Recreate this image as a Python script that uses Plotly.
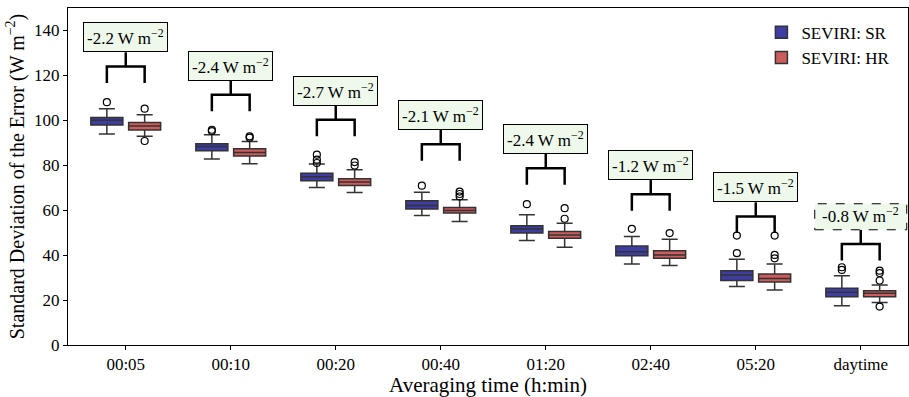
import plotly.graph_objects as go

categories = ["00:05", "00:10", "00:20", "00:40", "01:20", "02:40", "05:20", "daytime"]

sr_lower = [93.9, 82.8, 70.1, 57.6, 46.5, 36.1, 26.0, 17.5]
sr_q1 = [97.9, 86.5, 73.1, 60.5, 49.8, 39.7, 28.7, 21.5]
sr_median = [100.0, 88.3, 74.9, 62.1, 51.6, 41.5, 31.2, 23.5]
sr_q3 = [101.3, 89.6, 76.4, 64.2, 53.1, 44.1, 33.1, 25.3]
sr_upper = [105.2, 93.6, 80.6, 68.0, 58.0, 48.3, 38.2, 30.8]
sr_outliers = [[108.1], [95.8, 95.2], [84.7, 82.5, 81.0], [70.9], [62.7], [51.7],
               [48.7, 40.9], [34.6, 33.4]]

hr_lower = [92.9, 80.7, 67.9, 55.0, 43.5, 35.4, 24.5, 18.9]
hr_q1 = [95.7, 84.1, 71.0, 58.7, 47.5, 38.6, 28.0, 21.5]
hr_median = [97.5, 85.7, 72.5, 59.9, 49.0, 40.1, 29.6, 23.0]
hr_q3 = [99.0, 87.4, 74.0, 61.2, 50.5, 41.9, 31.6, 24.2]
hr_upper = [102.5, 90.6, 78.0, 64.6, 54.2, 47.1, 36.1, 26.7]
hr_outliers = [[105.2, 90.8], [92.9, 92.3], [81.4, 79.9], [68.3, 67.2, 66.1], [60.9, 56.2],
               [49.8], [48.7, 40.1, 38.6], [33.1, 32.0, 28.7, 17.1]]

differences = ["-2.2", "-2.4", "-2.7", "-2.1", "-2.4", "-1.2", "-1.5", "-0.8"]
bracket_level = [116.6, 104.0, 92.9, 82.0, 71.3, 59.7, 49.8, 37.6]
dashed_groups = ["daytime"]

yticks = [0, 20, 40, 60, 80, 100, 120, 140]

# ---- styling ----
FONT = "'Liberation Serif', 'DejaVu Serif', serif"
OFF = 0.18
BOXW = 0.305
SR_COLOR = "#3d3da3"
HR_COLOR = "#cd5c5c"
EDGE = "#333333"
ANN_BG = "#eef9ec"
LEG_H = 7.4
STEM_H = 6.3

idx = list(range(len(categories)))
fig = go.Figure()

fig.add_trace(go.Box(
    name="SEVIRI: SR", x=[i - OFF for i in idx],
    lowerfence=sr_lower, q1=sr_q1, median=sr_median, q3=sr_q3, upperfence=sr_upper,
    width=BOXW, whiskerwidth=0.5, boxpoints=False,
    fillcolor=SR_COLOR, line=dict(color=EDGE, width=1.5),
))
fig.add_trace(go.Box(
    name="SEVIRI: HR", x=[i + OFF for i in idx],
    lowerfence=hr_lower, q1=hr_q1, median=hr_median, q3=hr_q3, upperfence=hr_upper,
    width=BOXW, whiskerwidth=0.5, boxpoints=False,
    fillcolor=HR_COLOR, line=dict(color=EDGE, width=1.5),
))

# outliers
ox, oy = [], []
for i in idx:
    for v in sr_outliers[i]:
        ox.append(i - OFF); oy.append(v)
    for v in hr_outliers[i]:
        ox.append(i + OFF); oy.append(v)
fig.add_trace(go.Scatter(
    x=ox, y=oy, mode="markers", showlegend=False, hoverinfo="skip",
    marker=dict(symbol="circle-open", size=7, color="black", line=dict(width=1.2)),
))

# brackets
bx, by = [], []
for i in idx:
    L = bracket_level[i]
    H = L + LEG_H
    T = H + STEM_H
    bx += [i - OFF, i - OFF, i + OFF, i + OFF, None, i, i, None]
    by += [L, H, H, L, None, H, T, None]
fig.add_trace(go.Scatter(
    x=bx, y=by, mode="lines", showlegend=False, hoverinfo="skip",
    line=dict(color="black", width=2.5),
))

annotations = []
shapes = []
for i in idx:
    T = bracket_level[i] + LEG_H + STEM_H
    dashed = categories[i] in dashed_groups
    annotations.append(dict(
        x=i, y=T, xref="x", yref="y", xanchor="center", yanchor="bottom",
        text=f"{differences[i]} W m<sup>−2</sup>", showarrow=False,
        font=dict(family=FONT, size=17, color="black"),
        bgcolor="rgba(0,0,0,0)" if dashed else ANN_BG,
        bordercolor="rgba(0,0,0,0)" if dashed else "black",
        borderwidth=1, borderpad=3,
    ))
    if dashed:
        shapes.append(dict(
            type="rect", xref="x", yref="y", xsizemode="pixel", ysizemode="pixel",
            xanchor=i, yanchor=T, x0=-46, x1=46, y0=0, y1=26,
            line=dict(color="black", width=1, dash="dash"), fillcolor=ANN_BG, layer="above",
        ))

fig.update_layout(
    width=909, height=397,
    margin=dict(l=68, r=1, t=8, b=52),
    plot_bgcolor="white", paper_bgcolor="white",
    font=dict(family=FONT, size=16, color="black"),
    showlegend=True,
    legend=dict(x=0.985, y=0.98, xanchor="right", yanchor="top",
                font=dict(family=FONT, size=17), bgcolor="rgba(255,255,255,0)",
                tracegroupgap=0),
    annotations=annotations,
    shapes=shapes,
)
fig.update_xaxes(
    range=[-0.55, 7.45], tickmode="array", tickvals=idx, ticktext=categories,
    showline=True, linecolor="black", linewidth=1, mirror=True,
    ticks="outside", ticklen=4, tickcolor="black", showgrid=False, zeroline=False,
    title=dict(text="Averaging time (h:min)", font=dict(family=FONT, size=21), standoff=2),
    tickfont=dict(family=FONT, size=17),
)
fig.update_yaxes(
    range=[0, 150], tickmode="array", tickvals=yticks,
    showline=True, linecolor="black", linewidth=1, mirror=True,
    ticks="outside", ticklen=4, tickcolor="black", showgrid=False, zeroline=False,
    title=dict(text="Standard Deviation of the Error (W m<sup>−2</sup>)",
               font=dict(family=FONT, size=20), standoff=4),
    tickfont=dict(family=FONT, size=17),
)

fig.write_html("out.html")
